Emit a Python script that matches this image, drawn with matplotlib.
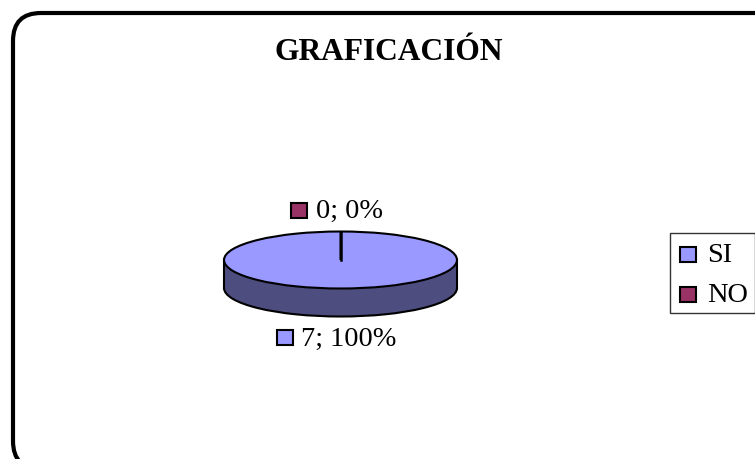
import matplotlib
matplotlib.use("Agg")
import matplotlib.pyplot as plt
from matplotlib.patches import FancyBboxPatch, Rectangle

plt.rcParams['font.family'] = ['Liberation Serif', 'DejaVu Serif']

title = "GRAFICACIÓN"
categories = ["SI", "NO"]
values = [7, 0]
percents = ["100%", "0%"]

W, H = 755, 459
top_color = ["#9999FF", "#993366"]
side_color = ["#4D4D80", "#4D1A33"]

fig = plt.figure(figsize=(W / 100, H / 100), dpi=100)

# background axes in pixel coords, y going down like the picture
bg = fig.add_axes([0, 0, 1, 1])
bg.set_xlim(0, W)
bg.set_ylim(H, 0)
bg.axis("off")

# rounded frame, runs off the right and bottom of the picture
bg.add_patch(FancyBboxPatch((13, 13), 770, 456, boxstyle="round,pad=0,rounding_size=28",
                            fc="white", ec="black", lw=3, clip_on=True))
bg.text(389, 53, title, fontsize=22.7, fontweight="bold", ha="center", va="center")

# pie: ellipse centre 340.5,260 radii 116 x 29, depth 28
cx, cy, rx, ry, depth = 340.5, 260, 116.5, 28.5, 28
pad = 4
pie_ax = fig.add_axes([(cx - rx - pad) / W, 1 - (cy + ry + depth + pad) / H,
                       (2 * rx + 2 * pad) / W, (2 * ry + depth + 2 * pad) / H])
d = depth / ry

# side first, then the top on it
pie_ax.pie(values, colors=side_color, startangle=90, radius=1, center=(0, -d),
           wedgeprops=dict(ec="black", lw=1.5))
pie_ax.add_patch(Rectangle((-1, -d), 2, d, fc=side_color[0], ec="none"))
pie_ax.plot([-1, -1], [-d, 0], color="black", lw=1.5)
pie_ax.plot([1, 1], [-d, 0], color="black", lw=1.5)
wedges, _ = pie_ax.pie(values, colors=top_color, startangle=90, radius=1,
                       wedgeprops=dict(ec="black", lw=1.5))
pie_ax.plot([0, 0], [0, 1], color="black", lw=1.8)
pie_ax.set_aspect("auto")
pie_ax.set_xlim(-1 - pad / rx, 1 + pad / rx)
pie_ax.set_ylim(-1 - d - pad / ry, 1 + pad / ry)


def key(x, y, color):
    bg.add_patch(Rectangle((x, y), 16, 15, fc=color, ec="black", lw=1.5))


# data labels
key(290.5, 203, top_color[1])
bg.text(316, 211.5, f"{values[1]}; {percents[1]}", fontsize=20.4, va="center", ha="left")
key(277, 330, top_color[0])
bg.text(301, 339.5, f"{values[0]}; {percents[0]}", fontsize=20.4, va="center", ha="left")

# legend
bg.add_patch(Rectangle((670, 232.5), 84.5, 80.5, fc="white", ec="#333333", lw=1))
for name, color, y in zip(categories, top_color, [254.5, 294.5]):
    key(680, y - 7.5, color)
    bg.text(707.5, y + 1, name, fontsize=20.4, va="center", ha="left")

fig.savefig("out.png", dpi=100)
